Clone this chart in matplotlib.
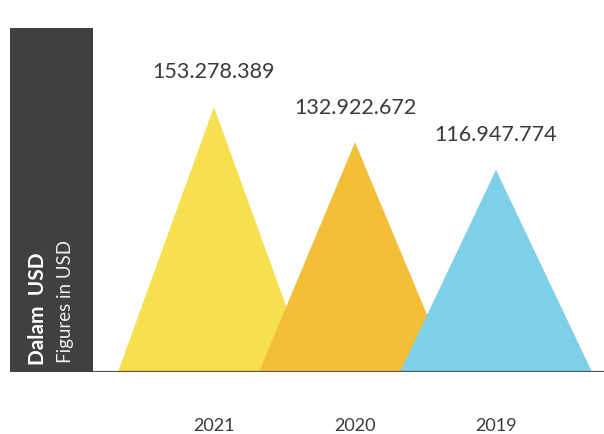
import matplotlib.pyplot as plt

years = ["2021", "2020", "2019"]
values = [153278389, 132922672, 116947774]
value_labels = ["153.278.389", "132.922.672", "116.947.774"]
colors = ["#F7E04D", "#F4BF38", "#7DD0E7"]

plt.rcParams["font.family"] = ["Lato", "DejaVu Sans"]

W, H = 604, 434
fig = plt.figure(figsize=(W / 100, H / 100), dpi=100)

# dark side panel
side = fig.add_axes([10 / W, 62 / H, 83 / W, 344 / H])
side.set_facecolor("#404042")
side.set_xticks([])
side.set_yticks([])
for s in side.spines.values():
    s.set_visible(False)
side.text(0.34, 0.02, "Dalam  USD", rotation=90, color="white", fontsize=15,
          fontweight="bold", ha="center", va="bottom", transform=side.transAxes)
side.text(0.67, 0.025, "Figures in USD", rotation=90, color="#eeeeee", fontsize=13.5,
          ha="center", va="bottom", transform=side.transAxes)

ax = fig.add_axes([93 / W, 62 / H, 511 / W, 344 / H])
ax.set_xlim(-0.858, 2.766)
ax.set_ylim(0, 199e6)
half = 0.681
for i, (v, c, lab) in enumerate(zip(values, colors, value_labels)):
    ax.fill([i - half, i, i + half], [0, v, 0], color=c, linewidth=0, zorder=2 + i)
    ax.annotate(lab, (i, v), xytext=(0, 25), textcoords="offset points",
                ha="center", va="center", fontsize=15.5, color="#3a3a3a")
    ax.annotate(years[i], (i, 0), xytext=(0, -39), textcoords="offset points",
                ha="center", va="center", fontsize=13, color="#3a3a3a",
                annotation_clip=False)

ax.axhline(0, color="#555555", linewidth=1.6, zorder=10)
ax.set_xticks([])
ax.set_yticks([])
for s in ax.spines.values():
    s.set_visible(False)
ax.patch.set_alpha(0)

fig.savefig("out.png", dpi=100)
